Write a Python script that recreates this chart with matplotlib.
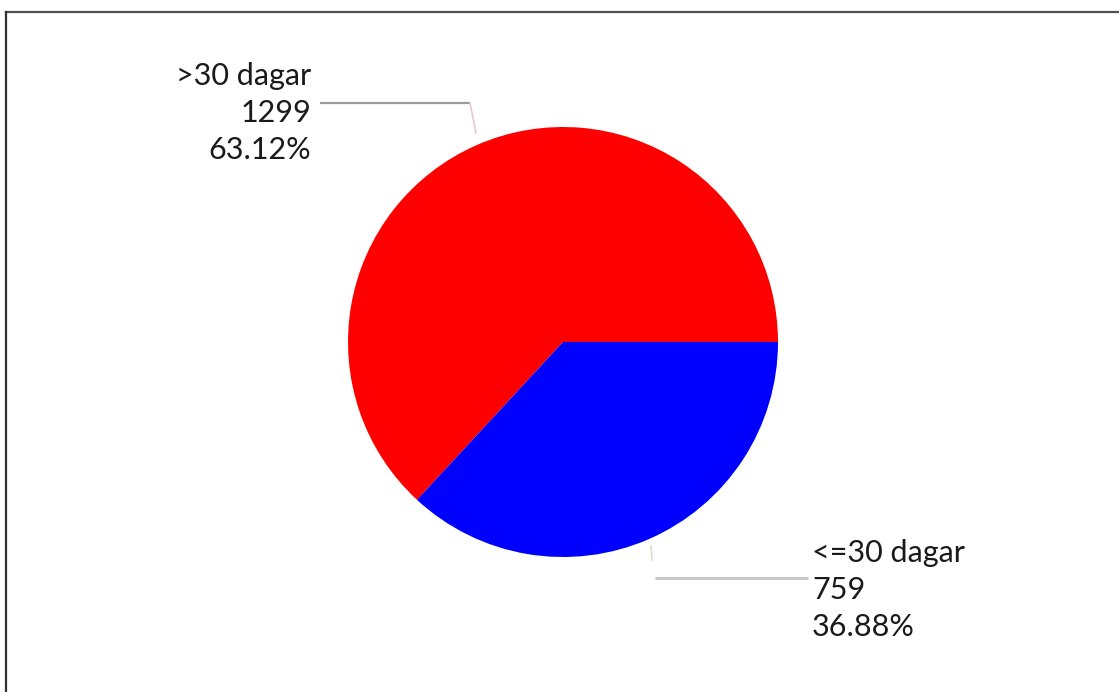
import matplotlib
matplotlib.use("Agg")
import matplotlib.pyplot as plt
from matplotlib.lines import Line2D

categories = [">30 dagar", "<=30 dagar"]
values = [1299, 759]
percents = ["63.12%", "36.88%"]
colors = ["#ff0000", "#0000ff"]

W, H = 1119, 692
fig = plt.figure(figsize=(W / 100, H / 100), dpi=100)
ax = fig.add_axes([0, 0, 1, 1])
R = 215.0
cx, cy = 563, 342

def px(x, y):
    return ((x - cx) / R, (cy - y) / R)

ax.pie(values, colors=colors, startangle=0, counterclock=True, radius=1.0,
       wedgeprops=dict(linewidth=0))
ax.set_aspect("auto")
ax.set_xlim(-cx / R, (W - cx) / R)
ax.set_ylim(-(H - cy) / R, cy / R)
ax.axis("off")

font = "Lato"
fs = 22
# top label
tx, ty = px(311, 113)
ax.text(tx, ty, f"{categories[0]}\n{values[0]}\n{percents[0]}", ha="right", va="center",
        multialignment="right", fontsize=fs, family=font, color="#1a1a1a", linespacing=1.4)
bx, by = px(812, 590)
ax.text(bx, by, f"{categories[1]}\n{values[1]}\n{percents[1]}", ha="left", va="center",
        multialignment="left", fontsize=fs, family=font, color="#1a1a1a", linespacing=1.4)

# leader lines
p = [px(320, 103), px(470, 103), px(476, 133)]
ax.plot([q[0] for q in p[:2]], [q[1] for q in p[:2]], color="#9a9a9a", lw=1.6, solid_capstyle="butt")
ax.plot([q[0] for q in p[1:]], [q[1] for q in p[1:]], color="#e8c8d0", lw=1.2)
p = [px(808, 578), px(655, 578)]
ax.plot([q[0] for q in p], [q[1] for q in p], color="#c8c8c8", lw=2.2, solid_capstyle="butt")
p = [px(651, 546), px(652, 560)]
ax.plot([q[0] for q in p], [q[1] for q in p], color="#e0dcc8", lw=1.2)

# frame (top and left only, as cropped)
fig.add_artist(Line2D([6 / W, 1], [1 - 12 / H, 1 - 12 / H], transform=fig.transFigure,
                      color="#505050", lw=1.6))
fig.add_artist(Line2D([6 / W, 6 / W], [0, 1 - 12 / H], transform=fig.transFigure,
                      color="#303030", lw=1.6))

fig.savefig("out.png", dpi=100, facecolor="white")
